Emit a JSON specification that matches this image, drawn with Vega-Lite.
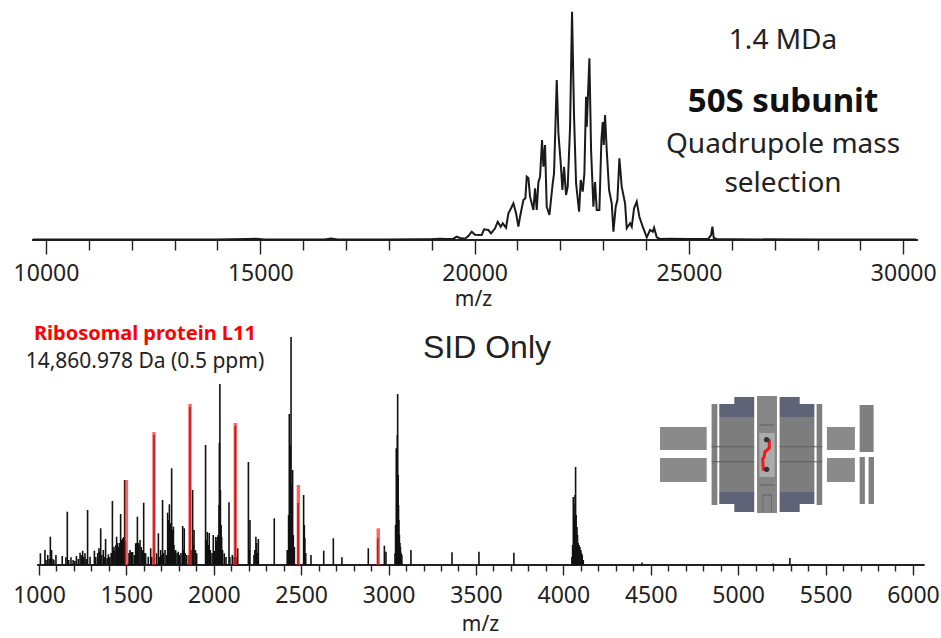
{
"$schema":"https://vega.github.io/schema/vega-lite/v6.json",
"padding":{"left":12,"top":0,"right":0,"bottom":4},
"background":"white",
"config":{"view":{"stroke":null},"font":"Noto Sans"},
"spacing":14,
"vconcat":[
{"width":893,"height":240,
"layer":[
{"data":{"values":[{"a":9673,"b":30345}]},"mark":{"type":"rule","color":"#222222","strokeWidth":1.8},
"encoding":{"x":{"field":"a","type":"quantitative","scale":{"domain":[9673,30508],"nice":false,"zero":false},
"axis":{"title":"m/z","titleFontSize":21,"titleFontWeight":"normal","titleColor":"#222222","titlePadding":3,"titleX":441,"domain":false,"grid":false,"tickCount":60,
"values":[10000,11000,12000,13000,14000,15000,16000,17000,18000,19000,20000,21000,22000,23000,24000,25000,26000,27000,28000,29000,30000],
"labelExpr":"datum.value % 5000 === 0 ? datum.value : ''","labelFontSize":23,"labelColor":"#222222","labelPadding":8,"labelOverlap":false,"labelFlush":false,
"tickColor":"#222222","tickWidth":1.4,"tickSize":{"condition":{"test":"datum.value % 5000 === 0","value":14},"value":10}}},
"x2":{"field":"b"},
"y":{"datum":0,"scale":{"domain":[0,240],"nice":false},"axis":null}}},
{"data":{"values":[
{"mz":9700,"h":0.5},{"mz":11000,"h":0.6},{"mz":12500,"h":0.5},{"mz":14000,"h":0.6},{"mz":14700,"h":1},{"mz":14900,"h":1.2},{"mz":15100,"h":0.5},{"mz":16500,"h":0.6},{"mz":16650,"h":1.5},{"mz":16800,"h":0.5},{"mz":18000,"h":0.6},{"mz":18700,"h":0.7},
{"mz":18960,"h":0.7},{"mz":19193,"h":1.3},{"mz":19349,"h":1},{"mz":19504,"h":1.3},{"mz":19582,"h":3.3},{"mz":19660,"h":2},{"mz":19777,"h":1.3},{"mz":19854,"h":4},{"mz":19932,"h":8.3},{"mz":20010,"h":5.3},{"mz":20166,"h":5},{"mz":20220,"h":10.7},{"mz":20321,"h":10},{"mz":20383,"h":6.7},{"mz":20477,"h":11.7},{"mz":20539,"h":18.3},{"mz":20609,"h":13.3},{"mz":20656,"h":16.7},{"mz":20733,"h":12.3},{"mz":20788,"h":26.7},{"mz":20850,"h":31.7},{"mz":20905,"h":36.7},{"mz":20967,"h":26.7},{"mz":21021,"h":13.3},{"mz":21060,"h":23.3},{"mz":21138,"h":40},{"mz":21184,"h":41.7},{"mz":21216,"h":63.3},{"mz":21255,"h":61.7},{"mz":21293,"h":43.3},{"mz":21332,"h":36.7},{"mz":21371,"h":30},{"mz":21410,"h":51.7},{"mz":21449,"h":30},{"mz":21488,"h":57.7},{"mz":21527,"h":63.3},{"mz":21573,"h":100},{"mz":21605,"h":73.3},{"mz":21643,"h":95},{"mz":21682,"h":33.3},{"mz":21745,"h":25},{"mz":21822,"h":56.7},{"mz":21853,"h":66.7},{"mz":21916,"h":160},{"mz":21955,"h":106.7},{"mz":22009,"h":76.7},{"mz":22048,"h":50},{"mz":22087,"h":73.3},{"mz":22133,"h":45},{"mz":22172,"h":53.3},{"mz":22227,"h":113.3},{"mz":22273,"h":228.3},{"mz":22320,"h":123.3},{"mz":22367,"h":56.7},{"mz":22437,"h":28.3},{"mz":22476,"h":60},{"mz":22522,"h":48.3},{"mz":22561,"h":66.7},{"mz":22600,"h":143.3},{"mz":22616,"h":113.3},{"mz":22678,"h":181.7},{"mz":22717,"h":90},{"mz":22771,"h":33.3},{"mz":22810,"h":58},{"mz":22849,"h":30},{"mz":22911,"h":30},{"mz":22958,"h":100},{"mz":22989,"h":118},{"mz":23012,"h":95},{"mz":23043,"h":125},{"mz":23082,"h":90},{"mz":23137,"h":50},{"mz":23199,"h":36.7},{"mz":23238,"h":8.3},{"mz":23292,"h":33.3},{"mz":23331,"h":40},{"mz":23378,"h":81.7},{"mz":23432,"h":53.3},{"mz":23510,"h":36.7},{"mz":23549,"h":11.7},{"mz":23627,"h":16.7},{"mz":23666,"h":13.3},{"mz":23720,"h":31.7},{"mz":23782,"h":38.3},{"mz":23844,"h":23.3},{"mz":23922,"h":13.3},{"mz":24016,"h":2.7},{"mz":24093,"h":10},{"mz":24156,"h":8.3},{"mz":24187,"h":12.3},{"mz":24249,"h":2.7},{"mz":24327,"h":1},{"mz":24560,"h":1.3},{"mz":24988,"h":1},{"mz":25455,"h":1.3},{"mz":25517,"h":5},{"mz":25548,"h":13.3},{"mz":25579,"h":2},{"mz":25649,"h":1},{"mz":25960,"h":0.7},{"mz":28000,"h":0.5},{"mz":30300,"h":0.5}
]},"mark":{"type":"line","color":"#1a1a1a","strokeWidth":2,"interpolate":"linear"},
"encoding":{"x":{"field":"mz","type":"quantitative"},"y":{"field":"h","type":"quantitative","axis":null}}},
{"data":{"values":[{"t":"1.4 MDa","mz":27196,"h":199}]},"mark":{"type":"text","fontSize":28,"color":"#222222","align":"center","baseline":"middle"},"encoding":{"x":{"field":"mz","type":"quantitative"},"y":{"field":"h","type":"quantitative","axis":null},"text":{"field":"t"}}},
{"data":{"values":[{"t":"50S subunit","mz":27196,"h":138}]},"mark":{"type":"text","fontSize":33,"fontWeight":"bold","color":"#111111","align":"center","baseline":"middle"},"encoding":{"x":{"field":"mz","type":"quantitative"},"y":{"field":"h","type":"quantitative","axis":null},"text":{"field":"t"}}},
{"data":{"values":[{"t":"Quadrupole mass","mz":27196,"h":95},{"t":"selection","mz":27196,"h":56}]},"mark":{"type":"text","fontSize":28,"color":"#222222","align":"center","baseline":"middle"},"encoding":{"x":{"field":"mz","type":"quantitative"},"y":{"field":"h","type":"quantitative","axis":null},"text":{"field":"t"}}}
]},
{"width":893,"height":240,
"layer":[
{"data":{"values":[
{"part":"column","x":5108,"x2":5222,"y":169,"y2":52},
{"part":"frame","x":4848,"x2":4881,"y":161,"y2":60},
{"part":"frame","x":5449,"x2":5481,"y":161,"y2":60},
{"part":"lens","x":4553,"x2":4820,"y":138,"y2":115},
{"part":"lens","x":4553,"x2":4820,"y":107,"y2":83},
{"part":"lens","x":5508,"x2":5668,"y":138,"y2":115},
{"part":"lens","x":5508,"x2":5668,"y":107,"y2":83},
{"part":"frame","x":5695,"x2":5775,"y":160,"y2":113},
{"part":"frame","x":5695,"x2":5725,"y":108,"y2":61},
{"part":"frame","x":5746,"x2":5777,"y":108,"y2":61},
{"part":"core","x":4892,"x2":5092,"y":148,"y2":73},
{"part":"core","x":5237,"x2":5436,"y":148,"y2":73},
{"part":"cap","x":4892,"x2":5092,"y":161,"y2":148},
{"part":"cap","x":4978,"x2":5092,"y":168,"y2":161},
{"part":"cap","x":5237,"x2":5436,"y":161,"y2":148},
{"part":"cap","x":5237,"x2":5352,"y":168,"y2":161},
{"part":"cap","x":4892,"x2":5092,"y":73,"y2":61},
{"part":"cap","x":4978,"x2":5092,"y":61,"y2":53},
{"part":"cap","x":5237,"x2":5436,"y":73,"y2":61},
{"part":"cap","x":5237,"x2":5352,"y":61,"y2":53},
{"part":"inner","x":5121,"x2":5209,"y":132,"y2":88},
{"part":"line","x":4848,"x2":5092,"y":118.8,"y2":117.8},
{"part":"line","x":4848,"x2":5092,"y":103.8,"y2":102.8},
{"part":"line","x":5237,"x2":5481,"y":118.8,"y2":117.8},
{"part":"line","x":5237,"x2":5481,"y":103.8,"y2":102.8},
{"part":"line","x":5121,"x2":5209,"y":140.5,"y2":139.5},
{"part":"line","x":5121,"x2":5209,"y":80.5,"y2":79.5},
{"part":"line","x":5140,"x2":5144,"y":70,"y2":53},
{"part":"line","x":5188,"x2":5192,"y":70,"y2":53},
{"part":"line","x":5140,"x2":5192,"y":70.5,"y2":69.5}
]},"mark":{"type":"rect"},
"encoding":{"x":{"field":"x","type":"quantitative","scale":{"domain":[960,6069],"nice":false,"zero":false},
"axis":{"title":"m/z","titleFontSize":21,"titleFontWeight":"normal","titleColor":"#222222","titlePadding":6,"titleX":448,"domain":false,"grid":false,"tickCount":60,
"values":[1000,1100,1200,1300,1400,1500,1600,1700,1800,1900,2000,2100,2200,2300,2400,2500,2600,2700,2800,2900,3000,3100,3200,3300,3400,3500,3600,3700,3800,3900,4000,4100,4200,4300,4400,4500,4600,4700,4800,4900,5000,5100,5200,5300,5400,5500,5600,5700,5800,5900,6000],
"labelExpr":"datum.value % 500 === 0 ? datum.value : ''","labelFontSize":23,"labelColor":"#222222","labelPadding":9,"labelOverlap":false,"labelFlush":false,
"tickColor":"#222222","tickWidth":1.4,"tickSize":{"condition":{"test":"datum.value % 500 === 0","value":10},"value":6}}},
"x2":{"field":"x2"},
"y":{"field":"y","type":"quantitative","scale":{"domain":[0,240],"nice":false},"axis":null},"y2":{"field":"y2"},
"color":{"field":"part","type":"nominal","legend":null,"scale":{"domain":["column","frame","lens","core","cap","inner","line"],"range":["#858585","#7f7f7f","#8a8a8a","#7d7d7d","#5f6377","#ababab","#5e5e5e"]}}}},
{"data":{"values":[{"a":989,"b":6067}]},"mark":{"type":"rule","color":"#222222","strokeWidth":1.8},
"encoding":{"x":{"field":"a","type":"quantitative"},"x2":{"field":"b"},"y":{"datum":0,"axis":null}}},
{"data":{"values":[{"mz":5178,"h":125.7,"o":1},{"mz":5178,"h":116.7,"o":2},{"mz":5153,"h":113.3,"o":3},{"mz":5148,"h":107.7,"o":4},{"mz":5140,"h":106,"o":5},{"mz":5144,"h":95.7,"o":6},{"mz":5163,"h":95,"o":7}]},
"mark":{"type":"line","color":"#f01818","strokeWidth":3},
"encoding":{"x":{"field":"mz","type":"quantitative"},"y":{"field":"h","type":"quantitative","axis":null},"order":{"field":"o"}}},
{"data":{"values":[{"mz":5163,"h":125.3},{"mz":5163,"h":95.7}]},"mark":{"type":"point","filled":true,"color":"#333333","size":28,"opacity":1},
"encoding":{"x":{"field":"mz","type":"quantitative"},"y":{"field":"h","type":"quantitative","axis":null}}},
{"data":{"values":[
{"mz":1008,"h":11.7},{"mz":1034,"h":15},{"mz":1050,"h":10},{"mz":1065,"h":28.3},{"mz":1072,"h":15},{"mz":1097,"h":10},{"mz":1133,"h":9},{"mz":1154,"h":7.7},{"mz":1162,"h":53.3},{"mz":1183,"h":7.7},{"mz":1214,"h":9},{"mz":1235,"h":12.3},{"mz":1250,"h":14.3},{"mz":1263,"h":11.7},{"mz":1278,"h":55},{"mz":1292,"h":8.3},{"mz":1317,"h":14.3},{"mz":1343,"h":16.7},{"mz":1353,"h":36.7},{"mz":1368,"h":15},{"mz":1381,"h":26},{"mz":1397,"h":10.7},{"mz":1420,"h":64},{"mz":1429,"h":18.3},{"mz":1444,"h":28.3},{"mz":1454,"h":18.3},{"mz":1467,"h":51},{"mz":1479,"h":26.7},{"mz":1490,"h":85},
{"mz":1040,"h":5},{"mz":1058,"h":6},{"mz":1080,"h":6},{"mz":1085,"h":5},{"mz":1170,"h":5},{"mz":1195,"h":5},{"mz":1205,"h":4},{"mz":1225,"h":6},{"mz":1243,"h":10},{"mz":1256,"h":8},{"mz":1270,"h":6},{"mz":1325,"h":8},{"mz":1336,"h":12},{"mz":1348,"h":13},{"mz":1360,"h":10},{"mz":1375,"h":8},{"mz":1390,"h":7},{"mz":1405,"h":8},{"mz":1413,"h":12},
{"mz":1425,"h":15},{"mz":1435,"h":14},{"mz":1440,"h":20},{"mz":1450,"h":22},{"mz":1458,"h":17},{"mz":1462,"h":22},{"mz":1472,"h":25},{"mz":1476,"h":24},{"mz":1485,"h":28},{"mz":1494,"h":24},
{"mz":1521,"h":15},{"mz":1536,"h":13},{"mz":1553,"h":21.7},{"mz":1563,"h":48.3},{"mz":1578,"h":25},{"mz":1599,"h":62.3},{"mz":1610,"h":11.7},{"mz":1625,"h":8.3},{"mz":1639,"h":16.7},{"mz":1515,"h":12},{"mz":1527,"h":13},{"mz":1530,"h":12},{"mz":1545,"h":10},{"mz":1558,"h":22},{"mz":1568,"h":22},{"mz":1572,"h":20},{"mz":1585,"h":18},{"mz":1592,"h":15},{"mz":1605,"h":12},{"mz":1645,"h":8},
{"mz":1658,"h":130},{"mz":1673,"h":11.7},{"mz":1683,"h":31.7},{"mz":1696,"h":15},{"mz":1707,"h":65},{"mz":1721,"h":15},{"mz":1736,"h":52.3},{"mz":1746,"h":60.7},{"mz":1759,"h":96.7},{"mz":1769,"h":38.3},{"mz":1782,"h":15},{"mz":1797,"h":13.3},{"mz":1822,"h":39},{"mz":1831,"h":36.7},{"mz":1690,"h":8},{"mz":1702,"h":10},{"mz":1712,"h":12},{"mz":1730,"h":10},{"mz":1740,"h":45},{"mz":1750,"h":40},{"mz":1755,"h":42},{"mz":1763,"h":35},{"mz":1765,"h":30},{"mz":1772,"h":20},{"mz":1776,"h":14},{"mz":1790,"h":12},{"mz":1803,"h":10},{"mz":1812,"h":12},{"mz":1826,"h":15},{"mz":1836,"h":12},{"mz":1845,"h":10},
{"mz":1858,"h":10},{"mz":1864,"h":158},{"mz":1870,"h":15},{"mz":1879,"h":75},{"mz":1883,"h":20},{"mz":1887,"h":35},{"mz":1895,"h":15},{"mz":1902,"h":11.7},
{"mz":1953,"h":120},{"mz":1958,"h":25},{"mz":1963,"h":33},{"mz":1968,"h":20},{"mz":1974,"h":32},{"mz":1980,"h":15},{"mz":1990,"h":12},{"mz":1997,"h":30},{"mz":2003,"h":14},{"mz":2011,"h":28},{"mz":2016,"h":24},{"mz":2020,"h":28},{"mz":2025,"h":30},{"mz":2030,"h":60},{"mz":2032,"h":122},{"mz":2035,"h":181},{"mz":2038,"h":75},{"mz":2042,"h":40},{"mz":2045,"h":28},{"mz":2050,"h":15},{"mz":2060,"h":11.7},{"mz":2070,"h":8},{"mz":2087,"h":62.7},{"mz":2092,"h":8},{"mz":2106,"h":10},{"mz":2117,"h":8},{"mz":2123,"h":139},{"mz":2137,"h":16.7},{"mz":2130,"h":8},{"mz":2198,"h":103},{"mz":2203,"h":15},{"mz":2207,"h":45},{"mz":2230,"h":10},{"mz":2235,"h":15},{"mz":2241,"h":28.3},{"mz":2245,"h":22},{"mz":2250,"h":12},{"mz":2255,"h":26},{"mz":2346,"h":46.7},
{"mz":2420,"h":15},{"mz":2428,"h":50},{"mz":2432,"h":151},{"mz":2435,"h":90},{"mz":2438,"h":120},{"mz":2442,"h":228},{"mz":2445,"h":80},{"mz":2451,"h":95},{"mz":2455,"h":30},{"mz":2461,"h":18},{"mz":2482,"h":62},{"mz":2514,"h":70},{"mz":2518,"h":40},{"mz":2521,"h":27},{"mz":2526,"h":12},{"mz":2556,"h":10},
{"mz":2629,"h":14.3},{"mz":2684,"h":26.7},{"mz":2733,"h":7.7},{"mz":2884,"h":16.7},{"mz":2938,"h":26.7},{"mz":2976,"h":19.3},{"mz":2985,"h":13.3},{"mz":3037,"h":11.7},{"mz":3040,"h":40},{"mz":3044,"h":116.7},{"mz":3047,"h":90},{"mz":3050,"h":130},{"mz":3052,"h":171},{"mz":3055,"h":90},{"mz":3057,"h":60},{"mz":3059,"h":45},{"mz":3062,"h":30},{"mz":3065,"h":22},{"mz":3068,"h":18},{"mz":3072,"h":12},{"mz":3076,"h":10},{"mz":3128,"h":15},{"mz":3363,"h":12.7},{"mz":3517,"h":13.3},{"mz":3717,"h":12.3},
{"mz":4049,"h":8},{"mz":4053,"h":20},{"mz":4057,"h":68},{"mz":4060,"h":60},{"mz":4064,"h":48},{"mz":4067,"h":70},{"mz":4070,"h":98},{"mz":4073,"h":50},{"mz":4078,"h":38},{"mz":4081,"h":30},{"mz":4085,"h":22},{"mz":4090,"h":20},{"mz":4095,"h":18},{"mz":4100,"h":15},{"mz":4104,"h":12},{"mz":4108,"h":10},{"mz":4114,"h":5},{"mz":4450,"h":2.5},{"mz":5200,"h":1.5},{"mz":5296,"h":7},{"mz":5850,"h":1},{"mz":5975,"h":1}
]},"mark":{"type":"rule","color":"#111111","strokeWidth":1.6},
"encoding":{"x":{"field":"mz","type":"quantitative"},"y":{"field":"h","type":"quantitative","axis":null},"y2":{"datum":0}}},
{"data":{"values":[{"mz":1500,"h":85},{"mz":1658,"h":133},{"mz":1864,"h":161},{"mz":2123,"h":142},{"mz":2484,"h":80},{"mz":2941,"h":36.7}]},
"mark":{"type":"rule","color":"#ff2222","strokeWidth":3.4,"opacity":0.7},
"encoding":{"x":{"field":"mz","type":"quantitative"},"y":{"field":"h","type":"quantitative","axis":null},"y2":{"datum":0}}},
{"data":{"values":[{"t":"Ribosomal protein L11","mz":1606,"h":231}]},"mark":{"type":"text","fontSize":20,"fontWeight":"bold","color":"#ff0000","align":"center","baseline":"middle"},"encoding":{"x":{"field":"mz","type":"quantitative"},"y":{"field":"h","type":"quantitative","axis":null},"text":{"field":"t"}}},
{"data":{"values":[{"t":"14,860.978 Da (0.5 ppm)","mz":1606,"h":203}]},"mark":{"type":"text","fontSize":21,"color":"#222222","align":"center","baseline":"middle"},"encoding":{"x":{"field":"mz","type":"quantitative"},"y":{"field":"h","type":"quantitative","axis":null},"text":{"field":"t"}}},
{"data":{"values":[{"t":"SID Only","mz":3563,"h":217}]},"mark":{"type":"text","fontSize":32,"font":"Liberation Sans","color":"#222222","align":"center","baseline":"middle"},"encoding":{"x":{"field":"mz","type":"quantitative"},"y":{"field":"h","type":"quantitative","axis":null},"text":{"field":"t"}}}
]}
]}
